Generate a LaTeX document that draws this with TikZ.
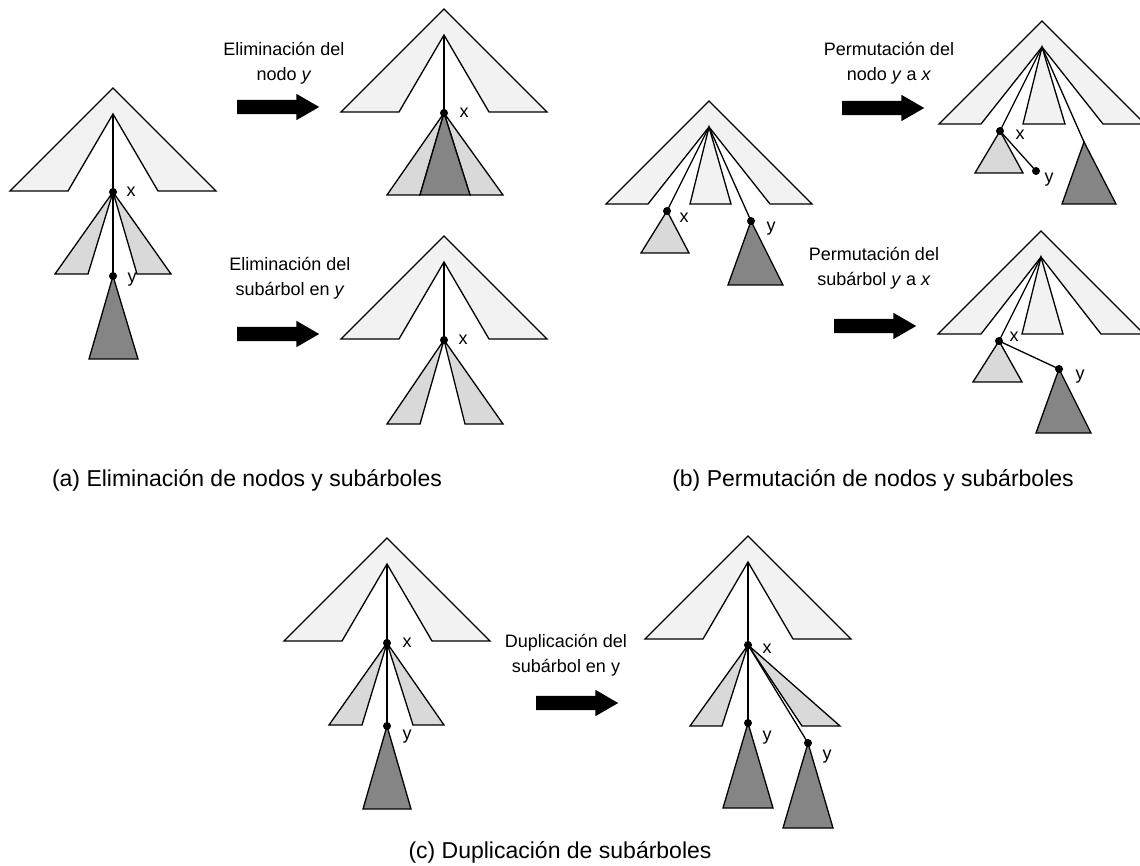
\documentclass[tikz,border=0pt]{standalone}
\usepackage{fontspec}
\setmainfont{Liberation Sans}
\usepackage{tikz}
\usetikzlibrary{shapes,arrows}
\tikzstyle{chev} = [draw, fill=black!5, line width=1.3pt, line join=miter]
\tikzstyle{light} = [draw, fill=black!15, line width=1.3pt, line join=miter]
\tikzstyle{dark} = [draw, fill=black!48, line width=1.3pt, line join=miter]
\tikzstyle{edge} = [draw, line width=1.3pt]
\tikzstyle{dot} = [circle, fill=black, inner sep=0pt, minimum size=8pt]
\tikzstyle{lbl} = [inner sep=0pt, font=\fontsize{18}{18}\selectfont]
\tikzstyle{op} = [inner sep=0pt, align=center, font=\fontsize{18}{25}\selectfont]
\tikzstyle{caption} = [inner sep=0pt, font=\fontsize{23}{27}\selectfont]
\tikzstyle{fat} = [single arrow, fill=black, anchor=west, inner xsep=0pt, inner ysep=7pt,
minimum height=82pt, single arrow head extend=6pt, single arrow tip angle=60]

% chevron: name of inner apex, centre x, bottom y, inner half width
\newcommand{\chevron}[4]{%
	\coordinate (#1) at (#2,#3-77);
	\path [chev] (#2,#3-103) -- (#2-103,#3) -- (#2-#4,#3) -- (#1) -- (#2+#4,#3) -- (#2+103,#3) -- cycle;}
% subtree: style, apex, left x, right x, bottom y
\newcommand{\subtri}[5]{\path [#1] (#2) -- (#3,#5) -- (#4,#5) -- cycle;}

\begin{document}
\begin{tikzpicture}[x=1pt, y=-1pt]
		\useasboundingbox (0,0) rectangle (1140,866);
		
		% (a) original tree
		\chevron{a1r}{113}{191}{45}
		\coordinate (a1x) at (113,192);
		\coordinate (a1y) at (113,276);
		\subtri{light}{a1x}{55}{88}{274}
		\subtri{light}{a1x}{137}{171}{274}
		\subtri{dark}{a1y}{89}{138}{359}
		\path [edge] (a1r) -- (a1x) -- (a1y);
		
		% (a) node y removed
		\chevron{a2r}{444}{112}{45}
		\coordinate (a2x) at (444,113);
		\subtri{light}{a2x}{387}{420}{195}
		\subtri{light}{a2x}{470}{503}{195}
		\subtri{dark}{a2x}{420}{470}{195}
		\path [edge] (a2r) -- (a2x);
		
		% (a) subtree y removed
		\chevron{a3r}{444}{339}{45}
		\coordinate (a3x) at (444,340);
		\subtri{light}{a3x}{387}{420}{424}
		\subtri{light}{a3x}{465}{503}{424}
		\path [edge] (a3r) -- (a3x);
		
		% (b) original tree
		\chevron{b1r}{709}{204}{61}
		\subtri{chev}{b1r}{690}{731}{204}
		\coordinate (b1x) at (667,211);
		\coordinate (b1y) at (751,221);
		\subtri{light}{b1x}{641}{689}{253}
		\subtri{dark}{b1y}{728}{783}{285}
		\path [edge] (b1r) -- (b1x);
		\path [edge] (b1r) -- (b1y);
		
		% (b) node y moved to x
		\chevron{b2r}{1042}{124}{61}
		\subtri{chev}{b2r}{1023}{1065}{124}
		\coordinate (b2x) at (1000,131);
		\coordinate (b2y) at (1036,171);
		\coordinate (b2d) at (1084,142);
		\subtri{light}{b2x}{975}{1023}{173}
		\subtri{dark}{b2d}{1062}{1116}{204}
		\path [edge] (b2r) -- (b2x) -- (b2y);
		\path [edge] (b2r) -- (b2d);
		
		% (b) subtree y moved to x
		\chevron{b3r}{1041}{334}{60}
		\subtri{chev}{b3r}{1022}{1063}{334}
		\coordinate (b3x) at (999,341);
		\coordinate (b3y) at (1059,369);
		\subtri{light}{b3x}{973}{1022}{382}
		\subtri{dark}{b3y}{1036}{1091}{433}
		\path [edge] (b3r) -- (b3x) -- (b3y);
		
		% (c) original tree
		\chevron{c1r}{387}{641}{45}
		\coordinate (c1x) at (387,643);
		\coordinate (c1y) at (387,726);
		\subtri{light}{c1x}{329}{362}{725}
		\subtri{light}{c1x}{413}{444}{725}
		\subtri{dark}{c1y}{363}{411}{809}
		\path [edge] (c1r) -- (c1x) -- (c1y);
		
		% (c) subtree y duplicated
		\chevron{c2r}{748}{639}{45}
		\coordinate (c2x) at (748,645);
		\coordinate (c2y) at (748,723);
		\coordinate (c2z) at (808,743);
		\subtri{light}{c2x}{690}{722}{726}
		\subtri{light}{c2x}{802}{840}{726}
		\subtri{dark}{c2y}{723}{773}{808}
		\subtri{dark}{c2z}{783}{833}{828}
		\path [edge] (c2r) -- (c2x) -- (c2y);
		\path [edge] (c2x) -- (c2z);
		
		% dots and their labels
		\foreach \p in {a1x,a1y,a2x,a3x,b1x,b1y,b2x,b2y,b3x,b3y,c1x,c1y,c2x,c2y,c2z}
		\node [dot] (\p dot) at (\p) {};
		\node [lbl] (a1xl) at ([xshift=18pt]a1x) {x};
		\node [lbl] (a1yl) at ([xshift=19pt,yshift=-4pt]a1y) {y};
		\node [lbl] (a2xl) at ([xshift=20pt]a2x) {x};
		\node [lbl] (a3xl) at ([xshift=19pt]a3x) {x};
		\node [lbl] (b1xl) at ([xshift=17pt,yshift=-7pt]b1x) {x};
		\node [lbl] (b1yl) at ([xshift=20pt,yshift=-8pt]b1y) {y};
		\node [lbl] (b2xl) at ([xshift=20pt,yshift=-4pt]b2x) {x};
		\node [lbl] (b2yl) at ([xshift=13pt,yshift=-9pt]b2y) {y};
		\node [lbl] (b3xl) at ([xshift=15pt,yshift=4pt]b3x) {x};
		\node [lbl] (b3yl) at ([xshift=21pt,yshift=-8pt]b3y) {y};
		\node [lbl] (c1xl) at ([xshift=20pt]c1x) {x};
		\node [lbl] (c1yl) at ([xshift=20pt,yshift=-11pt]c1y) {y};
		\node [lbl] (c2xl) at ([xshift=19pt,yshift=-4pt]c2x) {x};
		\node [lbl] (c2yl) at ([xshift=19pt,yshift=-15pt]c2y) {y};
		\node [lbl] (c2zl) at ([xshift=19pt,yshift=-14pt]c2z) {y};
		
		% operation arrows
		\node [fat] (arr1) at (237,107) {};
		\node [fat] (arr2) at (237,334) {};
		\node [fat] (arr3) at (842,108) {};
		\node [fat] (arr4) at (834,326) {};
		\node [fat] (arr5) at (536,703) {};
		\node [op] (op1) at (284,63) {Eliminación del\\nodo \textit{y}};
		\node [op] (op2) at (290,278) {Eliminación del\\subárbol en \textit{y}};
		\node [op] (op3) at (889,63) {Permutación del\\nodo \textit{y} a \textit{x}};
		\node [op] (op4) at (874,268) {Permutación del\\subárbol \textit{y} a \textit{x}};
		\node [op] (op5) at (566,655) {Duplicación del\\subárbol en y};
		
		% captions
		\node [caption] (capa) at (247,480) {(a) Eliminación de nodos y subárboles};
		\node [caption] (capb) at (873,480) {(b) Permutación de nodos y subárboles};
		\node [caption] (capc) at (560,852) {(c) Duplicación de subárboles};
		\end{tikzpicture}
\end{document}
